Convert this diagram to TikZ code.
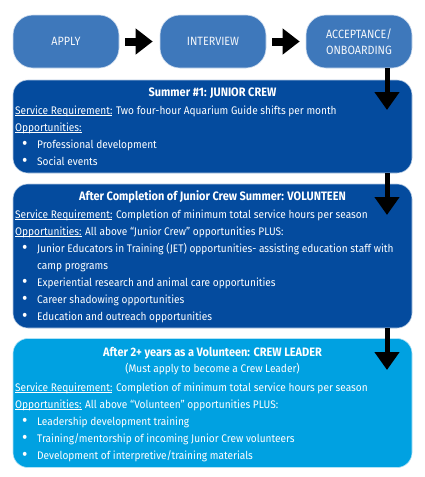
\documentclass[tikz,border=0pt]{standalone}
\usepackage{fontspec}
\usepackage{graphicx}
\setmainfont{Fira Sans}
\usetikzlibrary{arrows.meta}
\definecolor{topblue}{HTML}{3E78BB}
\definecolor{darkblue}{HTML}{044B9E}
\definecolor{lightblue}{HTML}{00A1E1}
\newcommand\dgbody{\fontsize{11}{13}\selectfont}
\newcommand\dgsq[1]{\scalebox{0.92}[1]{#1}}
\newcommand\dgsp[1]{\scalebox{0.9}[1]{#1}}
\newcommand\dgst[1]{\scalebox{0.9}[1]{#1}}
\newlength\dgw
\newcommand\dgul[1]{\settowidth\dgw{#1}\rlap{\rule[-1.7pt]{\dgw}{0.6pt}}#1}
\newcommand\dgitem[1]{\makebox[16.3pt][l]{\raisebox{-1pt}{\fontsize{18}{18}\selectfont\textbullet}}#1}
\begin{document}
\begin{tikzpicture}[x=1pt,y=-1pt,
  pill/.style={draw=white!75!topblue, line width=0.6pt, fill=topblue, rounded corners=20pt,
    minimum width=106pt, minimum height=53pt, inner sep=0pt, text=white!94!topblue,
    font=\fontsize{12}{16.5}\selectfont, align=center},
  bigbox/.style={draw=white!70!darkblue, line width=0.6pt, rounded corners=15pt,
    minimum width=399pt, inner sep=0pt},
  txt/.style={anchor=base west, inner sep=0pt, text=white, font=\dgbody},
  ttl/.style={anchor=base, inner sep=0pt, text=white, font=\fontsize{12.2}{14}\selectfont\bfseries},
  harrow/.style={line width=8pt, -{Triangle[width=25pt,length=17pt]}},
  varrow/.style={line width=5pt, -{Triangle[width=24pt,length=18pt]}}]
\useasboundingbox[fill=white] (0,0) rectangle (424,477);
% top row
\node[pill] (apply) at (66,41.5) {\dgsp{APPLY}};
\node[pill] (interview) at (213,41.5) {\dgsp{INTERVIEW}};
\node[pill] (accept) at (359,41.5) {\dgsp{ACCEPTANCE/}\\\dgsp{ONBOARDING}};
\draw[harrow] ([xshift=6pt]apply.east) -- ([xshift=-7pt]interview.west);
\draw[harrow] ([xshift=6pt]interview.east) -- ([xshift=-6pt]accept.west);
% big boxes
\node[bigbox, fill=darkblue, minimum height=93pt] (box1) at (212.5,126.5) {};
\node[bigbox, fill=darkblue, minimum height=144pt] (box2) at (212.5,256) {};
\node[bigbox, fill=lightblue, draw=white!70!lightblue, minimum height=129pt] (box3) at (212.5,403) {};
% vertical arrows
\coordinate (h1) at (387,110);
\coordinate (h2) at (387,215);
\coordinate (h3) at (387,370);
\draw[varrow] (h1 |- accept.south) -- (h1);
\draw[varrow] (h2 |- box1.south) -- (h2);
\draw[varrow] (h3 |- box2.south) -- (h3);
% box 1 text
\node[ttl] (t1) at (212.5,96.5) {\dgst{Summer \#1: JUNIOR CREW}};
\node[txt] (s1) at (15,114) {\dgsq{\dgul{Service Requirement:} Two four-hour Aquarium Guide shifts per month}};
\node[txt] (o1) at (15,131) {\dgsq{\dgul{Opportunities:}}};
\node[txt] (b11) at (22,148) {\dgsq{\dgitem{Professional development}}};
\node[txt] (b12) at (22,165) {\dgsq{\dgitem{Social events}}};
% box 2 text
\node[ttl] (t2) at (212.5,200) {\dgst{After Completion of Junior Crew Summer: VOLUNTEEN}};
\node[txt] (s2) at (15,218.3) {\dgsq{\dgul{Service Requirement:} Completion of minimum total service hours per season}};
\node[txt] (o2) at (15,235.3) {\dgsq{\dgul{Opportunities:} All above “Junior Crew” opportunities PLUS:}};
\node[txt] (b21) at (22,252.3) {\dgsq{\dgitem{Junior Educators in Training (JET) opportunities- assisting education staff with}}};
\node[txt] (b21b) at (37,269.3) {\dgsq{camp programs}};
\node[txt] (b22) at (22,286.3) {\dgsq{\dgitem{Experiential research and animal care opportunities}}};
\node[txt] (b23) at (22,303.3) {\dgsq{\dgitem{Career shadowing opportunities}}};
\node[txt] (b24) at (22,320.3) {\dgsq{\dgitem{Education and outreach opportunities}}};
% box 3 text
\node[ttl] (t3) at (212.5,356.5) {\dgst{After 2+ years as a Volunteen: CREW LEADER}};
\node[txt, anchor=base] (m3) at (212.5,372.5) {\dgsq{(Must apply to become a Crew Leader)}};
\node[txt] (s3) at (15,391) {\dgsq{\dgul{Service Requirement:} Completion of minimum total service hours per season}};
\node[txt] (o3) at (15,408) {\dgsq{\dgul{Opportunities:} All above “Volunteen” opportunities PLUS:}};
\node[txt] (b31) at (22,425) {\dgsq{\dgitem{Leadership development training}}};
\node[txt] (b32) at (22,442) {\dgsq{\dgitem{Training/mentorship of incoming Junior Crew volunteers}}};
\node[txt] (b33) at (22,459) {\dgsq{\dgitem{Development of interpretive/training materials}}};
\end{tikzpicture}
\end{document}
